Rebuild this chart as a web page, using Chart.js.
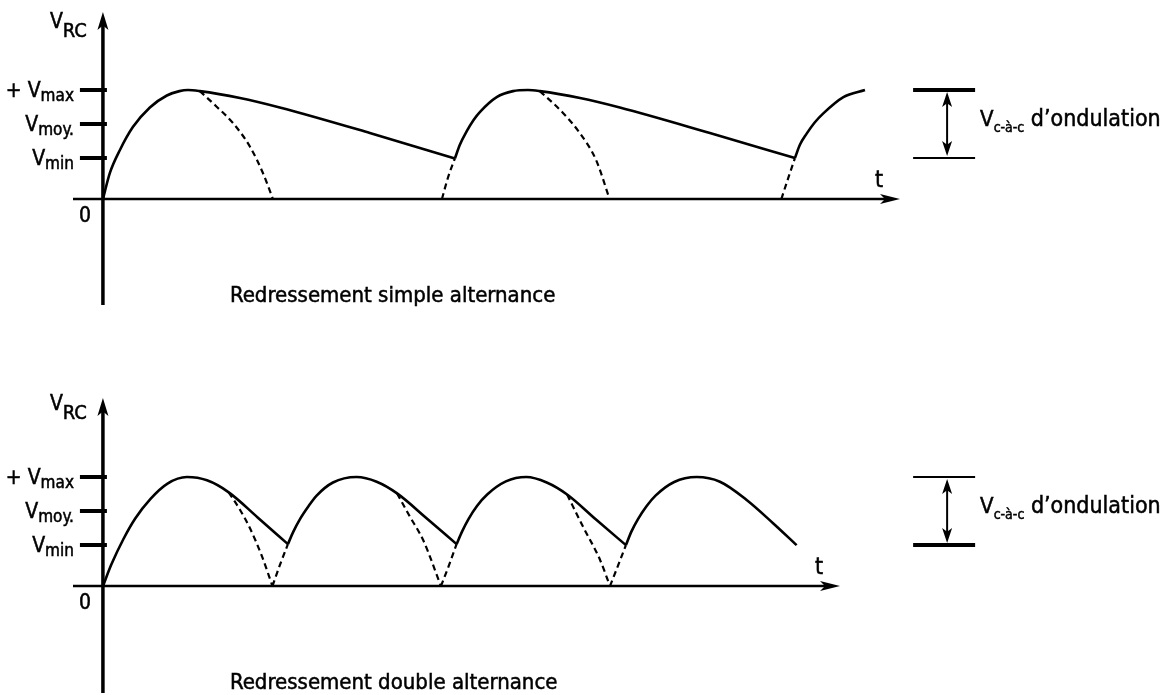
<!DOCTYPE html>
<html><head><meta charset="utf-8">
<script src="https://cdn.jsdelivr.net/npm/chart.js@4.4.1/dist/chart.umd.min.js"></script>
<style>
html,body{margin:0;padding:0;background:#fff;}
#wrap{position:relative;width:1167px;height:695px;overflow:hidden;background:#fff;}
canvas{position:absolute;left:0;}
#c1{top:0;} #c2{top:347px;}
</style></head><body>
<div id="wrap"><canvas id="c1" width="1167" height="347"></canvas><canvas id="c2" width="1167" height="348"></canvas></div>
<script>
// ---------- values (t in ms, V normalised so that Vmax = 1) ----------
const yTickValues = [1.0, 0.69, 0.376];
const yTickMain   = ['+ V', 'V', 'V'];
const yTickSub    = ['max', 'moy.', 'min'];

// Redressement simple alternance : tension aux bornes de RC (trait plein), null = coupure
const simpleSolidT = [0, 0.41, 1.0, 1.76, 2.76, 3.76, 4.5, 5.0, 5.7, 8.06, 10.4, 15.7, 20.7, null,
                      20.7, 21.0, 21.39, 21.8, 22.18, 23.16, 24.12, 25.0, 25.7, 28.06, 30.4, 35.7, 40.7, null,
                      40.7, 41.0, 41.39, 41.85, 42.37, 43.55, 44.82];
const simpleSolidV = [0, 0.24, 0.45, 0.66, 0.84, 0.95, 0.99, 1.0, 0.99, 0.927, 0.84, 0.606, 0.372, null,
                      0.372, 0.5, 0.62, 0.725, 0.8, 0.935, 0.99, 1.0, 0.99, 0.927, 0.84, 0.606, 0.376, null,
                      0.376, 0.5, 0.6, 0.7, 0.786, 0.935, 1.0];
// sinusoïde redressée (pointillés)
const simpleDashT = [5.7, 6.69, 7.65, 8.65, 9.41, 10.0, null,
                     19.94, 20.3, 20.7, null,
                     25.7, 27.06, 28.06, 29.0, 29.8, null,
                     39.9, 40.3, 40.7];
const simpleDashV = [0.99, 0.847, 0.697, 0.48, 0.239, 0, null,
                     0, 0.2, 0.372, null,
                     0.99, 0.79, 0.603, 0.36, 0, null,
                     0, 0.19, 0.376];

// Redressement double alternance
const doubleSolidT = [0, 0.5, 1.2, 1.9, 2.8, 3.8, 4.94, 6.12, 7.4, 9.1, 10.88, null,
                      10.88, 11.2, 11.59, 12.1, 12.57, 13.53, 14.92, 16.1, 17.3, 19.05, 20.8, null,
                      20.8, 21.12, 21.5, 22.0, 22.6, 23.7, 24.9, 26.1, 27.3, 29.0, 30.76, null,
                      30.76, 31.08, 31.47, 31.98, 32.5, 33.6, 34.92, 36.29, 37.86, 39.43, 40.8];
const doubleSolidV = [0, 0.2, 0.43, 0.62, 0.8, 0.94, 1.0, 0.97, 0.86, 0.63, 0.385, null,
                      0.385, 0.5, 0.615, 0.735, 0.83, 0.95, 1.0, 0.957, 0.85, 0.62, 0.385, null,
                      0.385, 0.5, 0.615, 0.735, 0.84, 0.96, 1.0, 0.95, 0.84, 0.61, 0.376, null,
                      0.376, 0.5, 0.615, 0.735, 0.83, 0.955, 1.0, 0.957, 0.79, 0.575, 0.376];
const doubleDashT = [7.4, 8.06, 8.65, 9.35, 9.97, null, 9.97, 10.4, 10.88, null,
                     17.3, 18.06, 18.84, 19.88, null, 19.88, 20.35, 20.8, null,
                     27.3, 28.24, 29.24, 29.82, null, 29.82, 30.3, 30.76];
const doubleDashV = [0.86, 0.70, 0.53, 0.275, 0, null, 0, 0.19, 0.385, null,
                     0.85, 0.636, 0.42, 0, null, 0, 0.19, 0.385, null,
                     0.84, 0.544, 0.24, 0, null, 0, 0.19, 0.376];

const titles = ['Redressement simple alternance', 'Redressement double alternance'];
const yAxisLabel = ['V', 'RC'];
const xAxisLabel = 't';
const rippleLabel = ['V', 'c-à-c', ' d\u2019ondulation'];
const rippleT = 49.65;           // position (in t units) of the ripple annotation

// ---------- helpers ----------
function pts(T, V) {
  return T.map((t, i) => ({ x: t === null ? T[i - 1] : t, y: V[i] }));
}
const FONT = '"DejaVu Sans Condensed", "Liberation Sans", Arial, sans-serif';
function seg(ctx, x1, y1, x2, y2) { ctx.beginPath(); ctx.moveTo(x1, y1); ctx.lineTo(x2, y2); ctx.stroke(); }
function tri(ctx, x, y, dir, len, half) {
  ctx.beginPath();
  if (dir === 'right') { ctx.moveTo(x, y); ctx.lineTo(x - len, y - half); ctx.lineTo(x - len * 0.75, y); ctx.lineTo(x - len, y + half); }
  else if (dir === 'up') { ctx.moveTo(x, y); ctx.lineTo(x - half, y + len); ctx.lineTo(x, y + len * 0.75); ctx.lineTo(x + half, y + len); }
  else { ctx.moveTo(x, y); ctx.lineTo(x - half, y - len); ctx.lineTo(x, y - len * 0.75); ctx.lineTo(x + half, y - len); }
  ctx.closePath(); ctx.fill();
}
function txt(ctx, s, x, y) {
  ctx.fillText(s, x, y);
  ctx.lineWidth = 0.5; ctx.strokeText(s, x, y);
}

const decor = {
  id: 'decor',
  afterDatasetsDraw(chart, args, o) {
    const { ctx, chartArea: a, scales: { x: xs, y: ys } } = chart;
    const x0 = xs.getPixelForValue(0), y0 = ys.getPixelForValue(0);
    ctx.save();
    ctx.fillStyle = '#000'; ctx.strokeStyle = '#000'; ctx.lineCap = 'butt';
    // x axis + arrow
    ctx.lineWidth = 2.5;
    seg(ctx, a.left, y0, a.right - 12, y0);
    tri(ctx, a.right, y0, 'right', 20, 5);
    // y axis + arrow
    ctx.lineWidth = 3.5;
    seg(ctx, x0, a.bottom, x0, a.top + 12);
    tri(ctx, x0, a.top, 'up', 18, 5.5);
    // ticks and their labels
    ctx.textBaseline = 'alphabetic';
    yTickValues.forEach((v, i) => {
      const py = Math.round(ys.getPixelForValue(v));
      ctx.lineWidth = 4;
      seg(ctx, x0 - 23, py, x0 + 4, py);
      ctx.textAlign = 'right';
      ctx.font = '17px ' + FONT;
      const sw = ctx.measureText(yTickSub[i]).width;
      txt(ctx, yTickSub[i], x0 - 29, py + 11);
      ctx.font = '21px ' + FONT;
      txt(ctx, yTickMain[i], x0 - 29 - sw, py + 7);
    });
    // 0
    ctx.textAlign = 'center';
    ctx.font = '21px ' + FONT;
    txt(ctx, '0', x0 - 18, y0 + 23);
    // V_RC
    ctx.textAlign = 'left';
    ctx.font = '21px ' + FONT;
    txt(ctx, yAxisLabel[0], x0 - 53, a.top + o.vrcDy);
    const vW = ctx.measureText(yAxisLabel[0]).width;
    ctx.font = '20px ' + FONT;
    txt(ctx, yAxisLabel[1], x0 - 53 + vW, a.top + o.vrcDy + 9);
    // t
    ctx.textAlign = 'center';
    ctx.font = '23px ' + FONT;
    txt(ctx, xAxisLabel, a.right - 21, y0 - 12);
    // title
    ctx.textAlign = 'left';
    ctx.font = '22px ' + FONT;
    txt(ctx, o.title, x0 + 127, y0 + 103);
    // ripple annotation
    const xm = xs.getPixelForValue(rippleT);
    const yT = Math.round(ys.getPixelForValue(yTickValues[0]));
    const yB = Math.round(ys.getPixelForValue(yTickValues[2]));
    ctx.lineWidth = o.annoTopW; seg(ctx, xm - 34, yT, xm + 28, yT);
    ctx.lineWidth = o.annoBotW; seg(ctx, xm - 34, yB, xm + 28, yB);
    ctx.lineWidth = 2; seg(ctx, xm, yT + 8, xm, yB - 8);
    tri(ctx, xm, yT + 2, 'up', 15, 5);
    tri(ctx, xm, yB - 2, 'down', 15, 5);
    const yt = ys.getPixelForValue(0.67);
    ctx.font = '22px ' + FONT;
    txt(ctx, rippleLabel[0], xm + 33, yt);
    const vw = ctx.measureText(rippleLabel[0]).width;
    ctx.font = '14px ' + FONT;
    txt(ctx, rippleLabel[1], xm + 33 + vw, yt + 6);
    const sw2 = ctx.measureText(rippleLabel[1]).width;
    ctx.font = '23px ' + FONT;
    txt(ctx, rippleLabel[2], xm + 33 + vw + sw2, yt);
    ctx.restore();
  }
};

function makeChart(id, solidT, solidV, dashT, dashV, xmax, ymin, ymax, pad, o) {
  const base = { borderColor: '#000', pointRadius: 0, cubicInterpolationMode: 'monotone', spanGaps: false, fill: false };
  return new Chart(document.getElementById(id), {
    type: 'line',
    data: {
      datasets: [
        Object.assign({ data: pts(solidT, solidV), borderWidth: 2.6 }, base),
        Object.assign({ data: pts(dashT, dashV), borderWidth: 2.2, borderDash: [6, 4] }, base)
      ]
    },
    options: {
      responsive: false, animation: false, events: [],
      layout: { padding: pad },
      scales: {
        x: { type: 'linear', display: false, min: -1.76, max: xmax },
        y: { type: 'linear', display: false, min: ymin, max: ymax }
      },
      plugins: { legend: { display: false }, tooltip: { enabled: false }, decor: o }
    },
    plugins: [decor]
  });
}

makeChart('c1', simpleSolidT, simpleSolidV, simpleDashT, simpleDashV, 46.88, -0.972, 1.716,
  { left: 73, right: 267, top: 12, bottom: 42 },
  { title: titles[0], vrcDy: 16, annoTopW: 4, annoBotW: 2 });
makeChart('c2', doubleSolidT, doubleSolidV, doubleDashT, doubleDashV, 43.35, -0.98, 1.725,
  { left: 73, right: 327, top: 51, bottom: 2 },
  { title: titles[1], vrcDy: 12, annoTopW: 2, annoBotW: 4 });
</script>
</body></html>
